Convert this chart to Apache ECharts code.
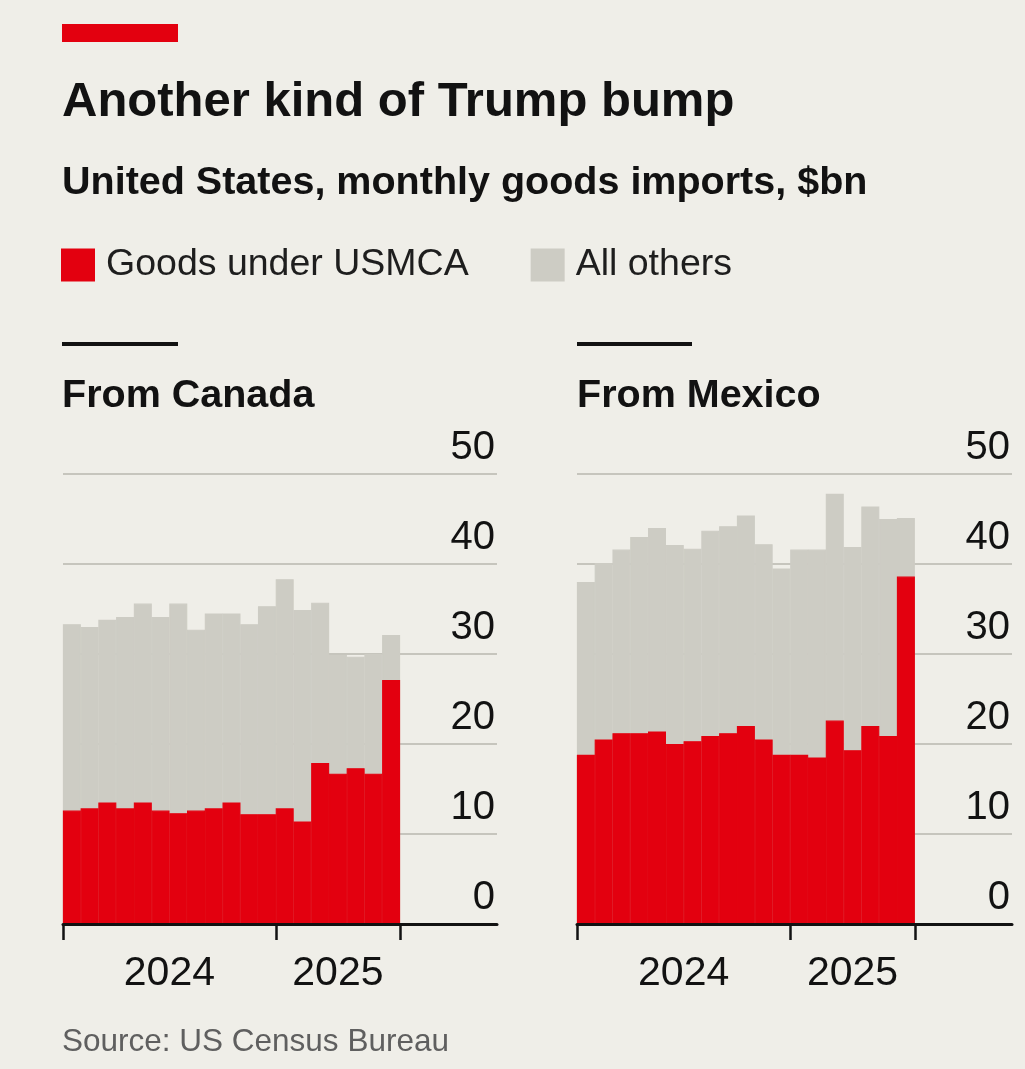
<!DOCTYPE html>
<html><head><meta charset="utf-8">
<script src="https://cdn.jsdelivr.net/npm/echarts@6/dist/echarts.min.js"></script>
<style>html,body{margin:0;padding:0;background:#EFEEE8}#c{width:1025px;height:1069px}</style>
</head><body><div id="c"></div>
<script>
// ---- data (US monthly goods imports, $bn) ----
const months = ['2024-01','2024-02','2024-03','2024-04','2024-05','2024-06','2024-07','2024-08','2024-09','2024-10','2024-11','2024-12',
                '2025-01','2025-02','2025-03','2025-04','2025-05','2025-06','2025-07'];
const canadaUSMCA = [12.6, 12.85, 13.5, 12.85, 13.5, 12.6, 12.3, 12.6, 12.85, 13.5, 12.2, 12.2, 12.85, 11.4, 17.9, 16.7, 17.3, 16.7, 27.1];
const canadaTotal = [33.3, 33.0, 33.8, 34.1, 35.6, 34.1, 35.6, 32.7, 34.5, 34.5, 33.3, 35.3, 38.3, 34.9, 35.7, 29.9, 29.7, 30.0, 32.1];
const mexicoUSMCA = [18.8, 20.5, 21.2, 21.2, 21.4, 20.0, 20.3, 20.9, 21.2, 22.0, 20.5, 18.8, 18.8, 18.5, 22.6, 19.3, 22.0, 20.9, 38.6];
const mexicoTotal = [38.0, 40.1, 41.6, 43.0, 44.0, 42.1, 41.7, 43.7, 44.2, 45.4, 42.2, 39.5, 41.6, 41.6, 47.8, 41.9, 46.4, 45.0, 45.1];
const yTickLabels = ['0','10','20','30','40','50'];
const seriesNames = ['Goods under USMCA', 'All others'];

// ---- styling ----
const FONT = "'Liberation Sans', Arial, sans-serif";
const RED = '#E3000F', GREY = '#CDCCC4', INK = '#121212';
const SLOTS = 24.47; // month slots spanned by the axis (data + empty space under labels)

// year boundary ticks and centred year labels, derived from months
const tickPos = [];
months.forEach((m, i) => { if (m.endsWith('-01')) tickPos.push(i); });
tickPos.push(months.length);
const labelPos = tickPos.slice(0, -1).map((t, k) => (t + tickPos[k + 1]) / 2);
const labelText = tickPos.slice(0, -1).map(t => months[t].slice(0, 4));

function xAxisFor(gridIndex) {
  return {
    type: 'value', gridIndex, min: 0, max: SLOTS, z: 10,
    splitLine: { show: false },
    axisLine: { show: true, onZero: false, lineStyle: { color: INK, width: 3 } },
    axisTick: { show: true, customValues: tickPos, length: 16, lineStyle: { color: INK, width: 2.5 } },
    axisLabel: {
      show: true, customValues: labelPos, margin: 29,
      formatter: v => { let k = 0, d = Infinity; labelPos.forEach((p, i) => { if (Math.abs(p - v) < d) { d = Math.abs(p - v); k = i; } }); return labelText[k]; },
      fontFamily: FONT, fontSize: 41, color: INK
    }
  };
}
function yAxisFor(gridIndex) {
  return {
    type: 'value', gridIndex, position: 'right', min: 0, max: 50, interval: 10,
    axisLine: { show: false }, axisTick: { show: false },
    splitLine: { show: true, lineStyle: { color: '#B8B7AF', width: 1.6 } },
    axisLabel: {
      inside: true, margin: 2, verticalAlign: 'bottom', lineHeight: 52,
      formatter: v => yTickLabels[Math.round(v / 10)],
      fontFamily: FONT, fontSize: 40, color: INK
    }
  };
}
function bars(name, values, idx, color, z) {
  return {
    type: 'bar', name, xAxisIndex: idx, yAxisIndex: idx, z,
    data: values.map((v, i) => [i + 0.5, v]),
    barWidth: 18, barGap: '-100%',
    itemStyle: { color, borderColor: color, borderWidth: 1.1 }, emphasis: { disabled: true }
  };
}

const chart = echarts.init(document.getElementById('c'), null, { renderer: 'canvas' });
chart.setOption({
  animation: false,
  backgroundColor: '#EFEEE8',
  title: [
    { text: 'Another kind of Trump bump', left: 62, top: 78, padding: 0,
      textStyle: { fontFamily: FONT, fontWeight: 'bold', fontSize: 49, color: INK } },
    { text: 'United States, monthly goods imports, $bn', left: 62, top: 163, padding: 0,
      textStyle: { fontFamily: FONT, fontWeight: 'bold', fontSize: 39.5, color: INK } },
    { text: 'From Canada', left: 62, top: 376, padding: 0,
      textStyle: { fontFamily: FONT, fontWeight: 'bold', fontSize: 39.5, color: INK } },
    { text: 'From Mexico', left: 577, top: 376, padding: 0,
      textStyle: { fontFamily: FONT, fontWeight: 'bold', fontSize: 39.5, color: INK } },
    { text: 'Source: US Census Bureau', left: 62, top: 1026, padding: 0,
      textStyle: { fontFamily: FONT, fontWeight: 'normal', fontSize: 31.5, color: '#5F5F5F' } }
  ],
  legend: {
    left: 61, top: 246, padding: 0, icon: 'rect', itemWidth: 34, itemHeight: 33, itemGap: 62,
    selectedMode: false, data: seriesNames,
    itemStyle: { borderWidth: 0 },
    textStyle: { fontFamily: FONT, fontSize: 37.5, color: '#1E1E1E', padding: [0, 0, 0, 6] }
  },
  graphic: [
    { type: 'rect', shape: { x: 62, y: 24, width: 116, height: 18 }, style: { fill: RED } },
    { type: 'rect', shape: { x: 62, y: 342, width: 116, height: 4 }, style: { fill: INK } },
    { type: 'rect', shape: { x: 577, y: 342, width: 115, height: 4 }, style: { fill: INK } }
  ],
  grid: [
    { left: 63, right: 528, top: 474, bottom: 145 },
    { left: 577, right: 13, top: 474, bottom: 145 }
  ],
  xAxis: [xAxisFor(0), xAxisFor(1)],
  yAxis: [yAxisFor(0), yAxisFor(1)],
  series: [
    bars(seriesNames[1], canadaTotal, 0, GREY, 2),
    bars(seriesNames[0], canadaUSMCA, 0, RED, 3),
    bars(seriesNames[1], mexicoTotal, 1, GREY, 2),
    bars(seriesNames[0], mexicoUSMCA, 1, RED, 3)
  ]
});
</script></body></html>
